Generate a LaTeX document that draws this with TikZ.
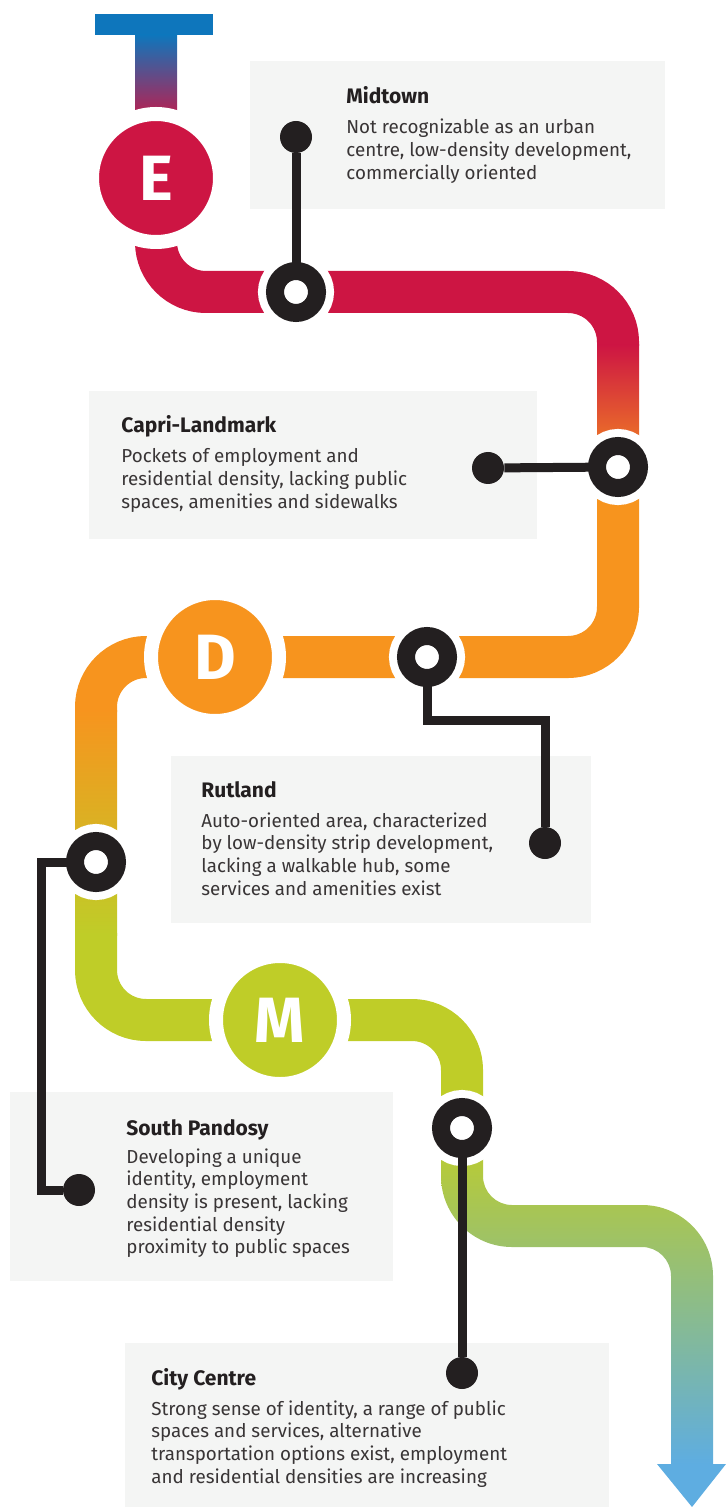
\documentclass[tikz,border=0pt]{standalone}
\usepackage{fontspec}
\setmainfont{Fira Sans}
\usepackage{tikz}
\definecolor{tblue}{HTML}{0E76BC}
\definecolor{ered}{HTML}{CD1543}
\definecolor{dorange}{HTML}{F7941E}
\definecolor{mgreen}{HTML}{BFCD28}
\definecolor{ablue}{HTML}{5EADE1}
\definecolor{ink}{HTML}{231F20}
\definecolor{panel}{HTML}{F4F5F4}
\tikzset{
  track/.style={line width=21pt, rounded corners=25pt},
  hub/.style={circle, minimum size=64pt, inner sep=0pt, draw=white, line width=7pt,
    text=white, font=\fontsize{32}{32}\selectfont\bfseries},
  station/.style={circle, minimum size=21pt, inner sep=0pt, fill=white, draw=white,
    line width=4pt, double=ink, double distance=9pt},
  blob/.style={circle, minimum size=16pt, inner sep=0pt, fill=ink},
  leader/.style={draw=ink, line width=4.5pt},
  boxtitle/.style={anchor=base west, inner sep=0pt, text=ink, font=\fontsize{10.5}{12}\selectfont\bfseries},
  boxtext/.style={anchor=base west, inner sep=0pt, text=ink!90!white, font=\fontsize{9.4}{11.35}\selectfont}
}

\begin{document}
\begin{tikzpicture}[x=0.5pt, y=0.5pt]
\useasboundingbox (0,0) rectangle (726,-1507);
\fill[panel] (250,-61) rectangle (665,-209);
\fill[panel] (89,-391) rectangle (537,-539);
\fill[panel] (171,-756) rectangle (591,-923);
\fill[panel] (10,-1092) rectangle (393,-1281);
\fill[panel] (125,-1343) rectangle (609,-1507);
\fill[tblue] (95,-14) rectangle (213,-35);
\shade[top color=tblue, bottom color=ered!85!tblue] (135,-35) rectangle (177,-112);
\draw[track, ered] (156,-178) -- (156,-292) -- (618,-292) -- (618,-346);
\shade[top color=ered, bottom color=dorange] (597,-345) rectangle (639,-480);
\draw[track, dorange] (618,-478) -- (618,-657) -- (96,-657) -- (96,-712);
\shade[top color=dorange, bottom color=mgreen] (75,-710) rectangle (117,-935);
\draw[track, mgreen] (96,-933) -- (96,-1020) -- (462,-1020) -- (462,-1130);
\shade[top color=mgreen, middle color=mgreen!70!ablue, bottom color=ablue]
  (441,-1128) -- (441,-1176) arc[start angle=180, end angle=270, radius=71]
  -- (642,-1247) arc[start angle=90, end angle=0, radius=29]
  -- (671,-1464) -- (713,-1464) -- (713,-1276) arc[start angle=0, end angle=90, radius=71]
  -- (512,-1205) arc[start angle=270, end angle=180, radius=29] -- (483,-1128) -- cycle;
\fill[ablue] (657,-1464) -- (726,-1464) -- (692,-1507) -- cycle;
\node[hub, fill=ered] (E) at (156,-178) {E};
\node[hub, fill=dorange] (D) at (215,-657) {D};
\node[hub, fill=mgreen] (M) at (280,-1020) {M};
\node[station] (s1) at (296,-292) {};
\node[station] (s2) at (618,-467) {};
\node[station] (s3) at (427,-657) {};
\node[station] (s4) at (96,-862) {};
\node[station] (s5) at (462,-1128) {};
\node[blob] (d1) at (296,-137) {};
\node[blob] (d2) at (488,-468) {};
\node[blob] (d3) at (545,-843) {};
\node[blob] (d4) at (79,-1190) {};
\node[blob] (d5) at (462,-1373) {};
\coordinate (b3) at (545,-720);
\coordinate (b4) at (41,-1190);
\draw[leader] (s1) -- (d1);
\draw[leader] (s2) -- (d2);
\draw[leader] (s3) |- (b3) -- (d3);
\draw[leader] (s4) -| (b4) -- (d4);
\draw[leader] (s5) -- (d5);
\node[boxtitle] (t1) at (346,-104) {Midtown};
\node[boxtext] (x1) at (346,-134) {\begin{tabular}[t]{@{}l@{}}Not recognizable as an urban\\centre, low-density development,\\commercially oriented\end{tabular}};
\node[boxtitle] (t2) at (121,-433) {Capri-Landmark};
\node[boxtext] (x2) at (121,-463) {\begin{tabular}[t]{@{}l@{}}Pockets of employment and\\residential density, lacking public\\spaces, amenities and sidewalks\end{tabular}};
\node[boxtitle] (t3) at (201,-797) {Rutland};
\node[boxtext] (x3) at (201,-827) {\begin{tabular}[t]{@{}l@{}}Auto-oriented area, characterized\\by low-density strip development,\\lacking a walkable hub, some\\services and amenities exist\end{tabular}};
\node[boxtitle] (t4) at (126,-1135) {South Pandosy};
\node[boxtext] (x4) at (126,-1163) {\begin{tabular}[t]{@{}l@{}}Developing a unique\\identity, employment\\density is present, lacking\\residential density\\proximity to public spaces\end{tabular}};
\node[boxtitle] (t5) at (151,-1385) {City Centre};
\node[boxtext] (x5) at (151,-1415) {\begin{tabular}[t]{@{}l@{}}Strong sense of identity, a range of public\\spaces and services, alternative\\transportation options exist, employment\\and residential densities are increasing\end{tabular}};
\end{tikzpicture}
\end{document}
